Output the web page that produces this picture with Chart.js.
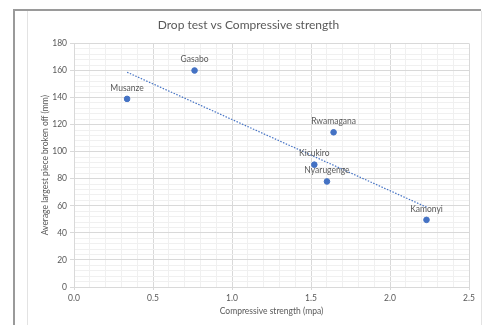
<!DOCTYPE html>
<html>
<head>
<meta charset="utf-8">
<script src="https://cdn.jsdelivr.net/npm/chart.js@4"></script>
<style>
  html, body { margin: 0; padding: 0; background: #fff; }
  #wrap { width: 489px; height: 325px; position: relative; }
</style>
</head>
<body>
<div id="wrap"><canvas id="myChart" width="489" height="325"></canvas></div>
<script>
// districts and readings
const districts = ['Musanze', 'Gasabo', 'Rwamagana', 'Kicukiro', 'Nyarugenge', 'Kamonyi'];
const strength = [0.336, 0.763, 1.643, 1.521, 1.601, 2.231];
const pieceSize = [139, 160, 114.3, 90.4, 78, 49.6];

// dotted linear trend, ends
const trendX = [0.336, 2.231];
const trendY = [158.7, 59];

const grey = '#595959';
const fontFamily = 'Lato, "Open Sans", sans-serif';

const points = strength.map((x, i) => ({ x: x, y: pieceSize[i] }));
const trend = trendX.map((x, i) => ({ x: x, y: trendY[i] }));

// sheet frame behind the chart
const framePlugin = {
    id: 'frame',
    beforeDraw(chart) {
        const ctx = chart.ctx;
        ctx.save();
        ctx.fillStyle = '#fff';
        ctx.fillRect(0, 0, chart.width, chart.height);
        ctx.strokeStyle = '#e3e3e3';
        ctx.lineWidth = 1;
        ctx.beginPath();
        ctx.moveTo(27.5, 11);
        ctx.lineTo(27.5, chart.height);
        ctx.moveTo(481.5, 11);
        ctx.lineTo(481.5, chart.height);
        ctx.stroke();
        ctx.strokeStyle = '#9a9a9a';
        ctx.lineWidth = 2;
        ctx.beginPath();
        ctx.moveTo(14, chart.height);
        ctx.lineTo(14, 10);
        ctx.lineTo(481, 10);
        ctx.stroke();
        ctx.restore();
    }
};

// names above each point
const pointLabels = {
    id: 'pointLabels',
    afterDatasetsDraw(chart) {
        const ctx = chart.ctx;
        const meta = chart.getDatasetMeta(0);
        ctx.save();
        ctx.font = '8.5px ' + fontFamily;
        ctx.fillStyle = grey;
        ctx.textAlign = 'center';
        ctx.textBaseline = 'middle';
        meta.data.forEach((pt, i) => {
            ctx.fillText(districts[i], pt.x, pt.y - 11);
        });
        ctx.restore();
    }
};

const ctx = document.getElementById('myChart');

new Chart(ctx, {
    type: 'scatter',
    data: {
        datasets: [
            {
                label: 'Drop test',
                data: points,
                backgroundColor: '#4472C4',
                borderColor: '#4472C4',
                pointRadius: 2.8,
                pointHoverRadius: 2.8,
                order: 1
            },
            {
                label: 'Trend',
                type: 'line',
                data: trend,
                borderColor: '#4472C4',
                borderWidth: 1.2,
                borderDash: [1.5, 1.5],
                pointRadius: 0,
                fill: false,
                order: 2
            }
        ]
    },
    options: {
        responsive: false,
        animation: false,
        layout: { padding: { left: 28, right: 20, top: 10, bottom: 0 } },
        plugins: {
            legend: { display: false },
            tooltip: { enabled: false },
            title: {
                display: true,
                text: 'Drop test vs Compressive strength',
                color: grey,
                font: { family: fontFamily, size: 12, weight: 'normal' },
                padding: { top: 8, bottom: 11 }
            }
        },
        scales: {
            x: {
                type: 'linear',
                min: 0,
                max: 2.5,
                afterFit(scale) { scale.height = 38; },
                ticks: {
                    stepSize: 0.1,
                    autoSkip: false,
                    maxRotation: 0,
                    color: grey,
                    padding: 3,
                    font: { family: fontFamily, size: 8.5 },
                    callback(v) {
                        const r = Math.round(v * 10);
                        return r % 5 === 0 ? (r / 10).toFixed(1) : '';
                    }
                },
                grid: {
                    tickLength: 3,
                    color(c) {
                        const r = Math.round(c.tick.value * 10);
                        return r % 5 === 0 ? '#d9d9d9' : '#f0f0f0';
                    },
                    tickColor(c) {
                        const r = Math.round(c.tick.value * 10);
                        return r % 5 === 0 ? '#d9d9d9' : 'rgba(0,0,0,0)';
                    }
                },
                border: { color: '#d9d9d9' },
                title: {
                    display: true,
                    text: 'Compressive strength (mpa)',
                    color: grey,
                    font: { family: fontFamily, size: 8.5 },
                    padding: { top: 0, bottom: 9 }
                }
            },
            y: {
                min: 0,
                max: 180,
                afterFit(scale) { scale.width = 46; },
                ticks: {
                    stepSize: 4,
                    autoSkip: false,
                    color: grey,
                    padding: 3,
                    font: { family: fontFamily, size: 8.5 },
                    callback(v) {
                        return Math.round(v) % 20 === 0 ? String(Math.round(v)) : '';
                    }
                },
                grid: {
                    tickLength: 4,
                    color(c) {
                        return Math.round(c.tick.value) % 20 === 0 ? '#d9d9d9' : '#f0f0f0';
                    },
                    tickColor(c) {
                        return Math.round(c.tick.value) % 20 === 0 ? '#d9d9d9' : 'rgba(0,0,0,0)';
                    }
                },
                border: { color: '#d9d9d9' },
                title: {
                    display: true,
                    text: 'Average largest piece broken off (mm)',
                    color: grey,
                    font: { family: fontFamily, size: 8.5 },
                    padding: { top: 12, bottom: 0 }
                }
            }
        }
    },
    plugins: [framePlugin, pointLabels]
});
</script>
</body>
</html>
